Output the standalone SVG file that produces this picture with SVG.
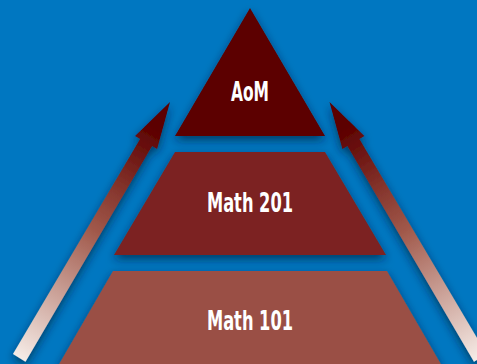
<svg xmlns="http://www.w3.org/2000/svg" width="477" height="364" viewBox="0 0 477 364">
<style>
.lbl{font-family:"Liberation Sans Narrow","DejaVu Sans Condensed","Liberation Sans",sans-serif;font-weight:bold;font-size:26px;fill:#ffffff;text-anchor:middle}
.sh{filter:url(#shadow)}
</style>
<defs>
<filter id="shadow" x="-20%" y="-20%" width="140%" height="150%">
<feDropShadow dx="0" dy="4" stdDeviation="5" flood-color="#001a33" flood-opacity="0.65"/>
</filter>
<linearGradient id="gl" gradientUnits="userSpaceOnUse" x1="170" y1="102" x2="19" y2="358">
<stop offset="0.1" stop-color="#5c0000"/>
<stop offset="0.5" stop-color="#a0584a"/>
<stop offset="1" stop-color="#f6ece7"/>
</linearGradient>
<linearGradient id="gr" gradientUnits="userSpaceOnUse" x1="330" y1="102" x2="480" y2="358">
<stop offset="0.1" stop-color="#5c0000"/>
<stop offset="0.5" stop-color="#a0584a"/>
<stop offset="1" stop-color="#f6ece7"/>
</linearGradient>
</defs>
<rect width="477" height="364" fill="#0077c1"/>
<g id="connectors">
<polygon class="sh" fill="url(#gl)" points="170,102 157.1,149 152.1,146.1 25.5,361.8 13,354 140.1,138.9 135.1,136"/>
<polygon class="sh" fill="url(#gr)" points="329.5,102 342.4,149 347.4,146.1 474,361.8 486.5,354 359.4,138.9 364.4,136"/>
</g>
<g id="math101">
<polygon class="sh" fill="#9a5045" points="113,271 387,271 442,366 58,366"/>
<text class="lbl" x="250" y="330" textLength="86" lengthAdjust="spacingAndGlyphs">Math 101</text>
</g>
<g id="math201">
<polygon class="sh" fill="#7b2420" points="175,152 325,152 386,255 114,255"/>
<text class="lbl" x="250" y="212" textLength="86" lengthAdjust="spacingAndGlyphs">Math 201</text>
</g>
<g id="aom">
<polygon class="sh" fill="#5c0000" points="250,8 325,136 175,136"/>
<text class="lbl" x="250" y="101" textLength="38" lengthAdjust="spacingAndGlyphs">AoM</text>
</g>
</svg>
